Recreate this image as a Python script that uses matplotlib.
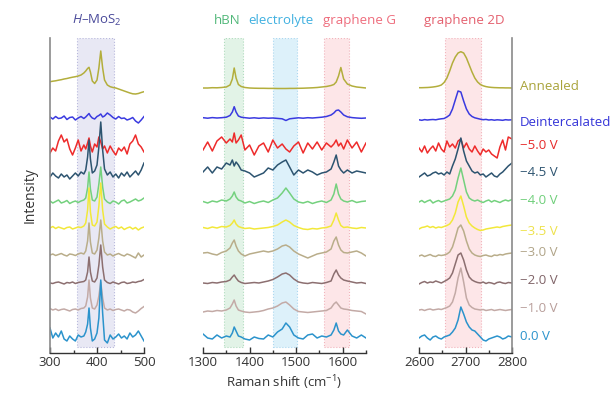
import numpy as np
import matplotlib
matplotlib.use('Agg')
import matplotlib.pyplot as plt

plt.rcParams['font.family'] = ['Open Sans', 'DejaVu Sans']
plt.rcParams['mathtext.fontset'] = 'custom'
plt.rcParams['mathtext.rm'] = 'Open Sans'
plt.rcParams['mathtext.it'] = 'Open Sans:italic'

# spectra, top to bottom
names = ['Annealed', 'Deintercalated', '\u22125.0 V', '\u22124.5 V', '\u22124.0 V',
         '\u22123.5 V', '\u22123.0 V', '\u22122.0 V', '\u22121.0 V', '0.0 V']
colors = ['#b3ae3c', '#3a3ae0', '#ee2b2b', '#2d5470', '#74d17e',
          '#f2e83a', '#b9ad8a', '#8c6f70', '#c3aaa6', '#2b93cc']
label_colors = ['#a9a33a', '#3434d8', '#e62a2a', '#2d5470', '#6fcf7a',
                '#eee24a', '#b0a488', '#806468', '#b89e9a', '#2b93cc']

# Raman shift grids (cm-1) for the three windows
x_mos2 = [300, 306, 312, 318, 324, 330, 336, 342, 348, 354, 360, 366, 372, 376, 380, 383, 386, 390, 395,
          400, 404, 408, 412, 416, 422, 428, 434, 440, 446, 452, 458, 464, 470, 476, 482, 488, 494, 500]
x_mid = [1300, 1310, 1320, 1330, 1340, 1350, 1358, 1363, 1367, 1371, 1376, 1382, 1390, 1400, 1410,
         1420, 1430, 1440, 1450, 1460, 1470, 1478, 1486, 1495, 1505, 1515, 1525, 1535, 1545, 1555,
         1565, 1575, 1581, 1586, 1591, 1596, 1602, 1610, 1620, 1630, 1640, 1650]
x_2d = [2600, 2606, 2612, 2618, 2624, 2630, 2636, 2642, 2648, 2654, 2660, 2666, 2672, 2678, 2684,
        2690, 2696, 2702, 2708, 2714, 2720, 2726, 2732, 2738, 2744, 2750, 2756, 2762, 2768, 2774,
        2780, 2786, 2792, 2800]

# baseline offsets of each trace (same order as names)
off_mos2 = [265, 235, 203, 178, 151, 125, 98, 70, 43, 15]
off_mid = [265, 235, 206, 181, 151, 125, 100, 70, 41, 16]
off_2d = [265, 233, 203, 178, 151, 125, 97, 70, 43, 15]

# MoS2 window intensities
mos2_annealed = [6.3, 6.8, 7.2, 7.8, 8.3, 9.0, 9.5, 10.2, 10.8, 11.3, 12.0, 13.0, 15.0, 17.0, 19.5, 20.7,
                 16.0, 7.0, 4.5, 8.0, 20.0, 37.0, 20.0, 8.0, 3.0, 1.3, 0.5, 0.0, -1.0, -2.0, -3.0, -4.0,
                 -5.0, -5.8, -6.0, -5.5, -4.5, -3.7]
mos2_deint = [1.0, -1.0, 1.5, -0.5, 0.0, 2.0, -1.5, 0.5, 1.0, -2.0, 0.0, 1.5, -0.5, 1.0, 3.0, 4.5, 2.0,
              0.0, -1.0, 1.5, 2.5, 4.0, 1.0, 2.0, 5.0, 3.0, 0.5, -1.0, 1.5, -0.5, 0.0, -2.0, -1.0, 0.5,
              -3.0, -5.0, -2.0, 1.5]
mos2_m50 = [-3, 2, -1, 9, 15, 8, 11, 1, -5, 2, 10, -1, 5, 1, 7, 12, 4, -2, 6, 3, 13, 8, 1, 4, -3, 4,
            -1, -5, 2, -1, 3, -4, 6, 9, 15, 6, 3, -2]
mos2_m45 = [-2, 2, -1, -3, 1, -2, 0, -4, -1, 2, -1, 3, 1, 5, 18, 35, 16, 2, 4, 10, 28, 53, 25, 6, 0, 3,
            -2, 1, -3, 2, -1, 3, -2, 1, 4, 0, 5, 12]
mos2_m40 = [1, -1, 0.5, 2, -1, 0, 1.5, -1.5, 0, 1, -0.5, 1, 2, 4, 14, 30, 13, 2, 1, 5, 18, 35, 15, 3, 0,
            -1.5, 1, 0, -2, 1, 2, -1, 0, 1.5, 3, 1, 2, 4]
mos2_m35 = [0, 1.5, -0.5, 1, 0, -1, 0.5, 1, -1, 0, 1, 0.5, 2, 5, 18, 40, 16, 3, 2, 6, 22, 45, 18, 4, 1,
            -1, 0.5, 1.5, -0.5, 1, -1.5, 0, 1, -1, 0.5, -2, 0, 1]
mos2_m30 = [0, 1, -0.5, 0.5, 1.5, 0, -1, 1, 0.5, -0.5, 1, 2, 1, 4, 14, 32, 13, 2, 1, 5, 17, 35, 14, 3, 0,
            1, -1, 0.5, 1.5, 0, -1, 1, 0, -1.5, -3, 2, -2, 0]
mos2_m20 = [0, -0.5, 0.5, 1, 0, -1, 0.5, 0, 1, -0.5, 0.5, 1, 1.5, 3, 11, 26, 11, 2, 1, 5, 18, 38, 16, 3,
            0.5, -0.5, 1, 0, -1, 0.5, 1, -0.5, 0, 1, 0.5, 1.5, 2, 3.5]
mos2_m10 = [1.5, 0, 1, -0.5, 0.5, 1, 0, -1, 0.5, 1, 0, 1.5, 2, 4, 13, 30, 12, 2, 1, 5, 14, 28, 12, 2, 0,
            1, -0.5, 0.5, 1, 0, -1, 0.5, 0, -2, -3, -1, 1.5, 3.5]
mos2_z00 = [10, 0, 5, 1, 7, -1, -3, 2, -1, -3, 3, 1, 2, 6, 14, 30, 10, -3, -1, 5, 20, 58, 25, -2, -5, 3,
            -1, 1, 4, 0, 2, -1, 5, 1, 3, 7, 2, -3]

# hBN / electrolyte / graphene G window intensities
mid_annealed = [0, 0, 0.3, 0.2, 0.5, 1, 3, 9, 20, 10, 3.5, 1.5, 0.5, 0, -0.2, -0.3, -0.3, -0.4, -0.4,
                -0.5, -0.5, -0.5, -0.4, -0.4, -0.3, -0.2, 0, 0.2, 0.5, 1, 1.5, 2.5, 3.5, 6, 12, 20.5,
                9, 4, 2, 1, 0.5, 0]
mid_deint = [0.3, -0.2, 0.4, 0, 0.3, 0.8, 2.5, 6, 11.3, 6, 2, 0.8, 0.3, -0.2, 0.2, -0.3, 0.1, -0.2, 0,
             -0.4, -0.8, -2.5, -0.8, -0.3, 0.2, -0.2, 0.3, 0, 0.4, 0.8, 1.5, 3, 5, 7.5, 8, 6, 3, 1.2,
             0.4, 0, -0.3, 0]
mid_m50 = [-3, 5, -4, 6, 10, 4, 8, 5, 14, 4, 7, 12, -3, 2, -8, 1, 4, -5, 7, -1, 3, -2, -5, 1, 5, -6, 4,
           -2, 5, -3, 4, 0, 3, 7, 1, 4, -2, 7, -1, 5, -5, 4]
mid_m45 = [0, 5, -1, 5, 3, 9, 7, 12, 6, 10, 7, 2, 1, -1, -5, -3, -1, 4, 2, 7, 10, 12, 5, -3, 2, -1, 2,
           0, -3, -1, 0, 3, 10, 17, 6, 2, -1, 2, -1, 1, 0, -1]
mid_m40 = [0.5, -1, 1, 0, 2, 1, 3, 6, 10, 5, 2, 1, -1, 0.5, -1.5, 0, 1, -0.5, 2, 4, 9, 14, 9, 3, 0, -1,
           0.5, -1.5, 0, 1, -0.5, 2, 8, 18, 8, 3, 1, 0, 1.5, -0.5, 0.5, 1]
mid_m35 = [0.5, -0.5, 1, 0, 1.5, 1, 2.5, 5, 8, 4, 1.5, 0.5, -0.5, 0, -1, -0.5, 0, 0.5, 1.5, 3, 6, 8, 6,
           2.5, 0.5, -1, -1.5, -0.5, -1, 0, 0.5, 2, 8, 15, 8, 2.5, 0.5, 1, 0, -0.5, 0.5, 0]
mid_m30 = [0, 0.5, -1, -2, 0.5, 2, 5, 10, 13, 7, 2, -1, -3, -1, 0, 1, 2, 1, 2, 4, 7, 8, 6, 2, -1, -3,
           -5, -3, -1, 0, 1, 4, 12, 16, 8, 3, 0.5, 0, 1, 2, 0, -3]
mid_m20 = [0, -0.5, 0.5, 0, 1, 1.5, 3, 6, 8, 5, 2, 0.5, -0.5, 0, 0.5, 0, 1, 2, 3.5, 6, 9, 10, 8, 4, 1,
           0, -0.5, 0.5, 0, -0.5, 0.5, 2, 9, 13, 8, 5, 3, 2, 1, 0, 0.5, -0.5]
mid_m10 = [0, 1, 0.5, 1.5, 1, 2, 4, 8, 12, 6, 2, 1, 0, -0.5, 0, 0.5, 1.5, 3, 4, 6, 9, 10, 7, 3, 0.5, 0,
           -0.5, 0, 0.5, 1, 1.5, 4, 8, 10, 7, 4, 3, 2.5, 1.5, 1, 0.5, -2]
mid_z00 = [3, -1, -2, 2, -1, 1, 0, 4, 10, 6, 1, 0, -2, -3, 0, -1.5, -2, 2, 0, 5, 8, 14, 10, 2, -1, -2,
           2, 3, -1, 1, 0, 2, 7, 14, 6, 3, 2, 7, 1, -1, 2, -1]

# graphene 2D window intensities
g2d_annealed = [0.3, 0.3, 0.4, 0.5, 0.7, 1.0, 1.4, 2.0, 3.0, 5.5, 10, 17, 25, 31, 35, 36.3, 35, 30, 23,
                16, 10, 6, 3.5, 2.2, 1.4, 0.9, 0.6, 0.4, 0.3, 0.2, 0.2, 0.1, 0.1, 0.0]
g2d_deint = [0.2, -0.3, 0.4, 0, 0.3, 0.5, 0.2, 0.8, 1.2, 1.5, 3, 5, 11, 20, 29, 28, 19, 11, 6, 3.5, 2.2,
             1.5, 0.8, 0.3, 0.6, 0, 0.3, -0.2, 0.2, 0, -0.3, 0.3, 0, 0.2]
g2d_m50 = [2, -2, 4, -3, 1, 4, -1, 7, 1, -2, 9, 3, 6, 2, 9, 11, 2, 7, 1, -2, 4, -1, -5, 1, -2, 0, -4, -6,
           -8, 3, 10, 0, 13, 11]
g2d_m45 = [-2, 0, 2, -1, 0, 2, 3, 1, 2, 0, 3, 1, 9, 16, 26, 37, 24, 14, 9, 4, 2, 3, 0, 1, -2, 0, 2, -1,
           -2, 1, 3, 6, 9, 12]
g2d_m40 = [0, 1.5, -0.5, 1, 2, -1, 0.5, 1.5, 0, 1, 2, 3, 6, 12, 24, 34, 22, 10, 4, 2, 1, 2, 0.5, -0.5,
           1, 2, 0, 1.5, 0.5, -0.5, 1, 2, 1, 2.5]
g2d_m35 = [-1, 0.5, 1, 2, 0.5, 1.5, 0, 1, 0.5, 1.5, 2.5, 4, 8, 15, 26, 32, 22, 11, 5, 2, 0, -1.5, -2.5,
           -2, -1, -0.5, 0, 0.5, 1, 0.5, 1.5, 2, 2.5, 3]
g2d_m30 = [0, 1, -0.5, 0.5, 1.5, 0, -0.5, 1, 0.5, 1, 2, 4, 9, 18, 28, 31, 25, 15, 7, 3, 1, 0, -0.5, 0.5,
           1, 0, -0.5, 1, 0.5, 1.5, 1, 2, 2.5, 3]
g2d_m20 = [-1, 0.5, 1.5, 0, 1, 0.5, 2, 1, 0, 1.5, 3, 5, 10, 19, 28, 30, 23, 13, 6, 3, 1.5, 0.5, 0, 1,
           -0.5, 0.5, 0, -1, 0.5, 1, 0, -0.5, 0.5, 0]
g2d_m10 = [0, 0.5, -0.5, 0.5, 1, 0, 0.5, 1, 0.5, 1.5, 2.5, 4, 8, 17, 32, 42, 28, 12, 5, 2.5, 1, 0.5, 0,
           0.5, -0.5, 0, 0.5, -0.5, 0, 0.5, 0, -0.5, 0, 0.5]
g2d_z00 = [0, 2, 3, 0, -2, 1, 2, 0, -1, 1, 2, 3, 6, 10, 18, 31, 24, 16, 11, 8, 7, 4, 1, -2, -3, -1, 0,
           1, 2, 1, -1, 0, 2, 1]

mos2 = [mos2_annealed, mos2_deint, mos2_m50, mos2_m45, mos2_m40,
        mos2_m35, mos2_m30, mos2_m20, mos2_m10, mos2_z00]
mid = [mid_annealed, mid_deint, mid_m50, mid_m45, mid_m40,
       mid_m35, mid_m30, mid_m20, mid_m10, mid_z00]
g2d = [g2d_annealed, g2d_deint, g2d_m50, g2d_m45, g2d_m40,
       g2d_m35, g2d_m30, g2d_m20, g2d_m10, g2d_z00]

# shaded peak windows: (x0, x1, face, edge)
bands_mos2 = [(357, 436, '#e8e8f4', '#b8b8dc')]
bands_mid = [(1345, 1386, '#e2f3e7', '#b0dcbe'),
             (1450, 1501, '#ddf1fa', '#acd8f0'),
             (1559, 1613, '#fde6e8', '#f2b4bc')]
bands_2d = [(2656, 2733, '#fde6e8', '#f2b4bc')]

W, H = 614, 394
fig = plt.figure(figsize=(W / 100, H / 100), dpi=100)
bottom, height = 41 / H, 315 / H
ax1 = fig.add_axes([50 / W, bottom, 94 / W, height])
ax2 = fig.add_axes([203 / W, bottom, 163 / W, height])
ax3 = fig.add_axes([419 / W, bottom, 93 / W, height])

panels = [
    (ax1, x_mos2, mos2, off_mos2, bands_mos2, (300, 500), [300, 400, 500], [350, 450]),
    (ax2, x_mid, mid, off_mid, bands_mid, (1300, 1650), [1300, 1400, 1500, 1600], [1350, 1450, 1550, 1650]),
    (ax3, x_2d, g2d, off_2d, bands_2d, (2600, 2800), [2600, 2700, 2800], [2650, 2750]),
]

for ax, xs, spectra, offs, bands, xlim, major, minor in panels:
    for x0, x1, fc, ec in bands:
        ax.axvspan(x0, x1, ymin=6 / 315, ymax=1, facecolor=fc, edgecolor=ec,
                   linestyle=':', linewidth=0.8, zorder=0)
    for ys, off, c in zip(spectra, offs, colors):
        ax.plot(xs, np.array(ys) + off, color=c, lw=1.1)
    ax.set_xlim(*xlim)
    ax.set_ylim(0, 315)
    ax.set_xticks(major)
    ax.set_xticks(minor, minor=True)
    ax.set_yticks([])
    ax.tick_params(axis='x', which='major', direction='in', length=4, width=1,
                   labelsize=9.5, pad=2.5, color='#333333', labelcolor='#333333')
    ax.tick_params(axis='x', which='minor', direction='in', length=2.5, width=1, color='#333333')
    ax.set_facecolor('none')
    for side in ['top', 'left', 'right']:
        ax.spines[side].set_visible(False)
    ax.spines['bottom'].set_color('#333333')
    ax.spines['bottom'].set_linewidth(1.0)

ax1.spines['left'].set_visible(True)
ax1.spines['left'].set_color('#8a8a8a')
ax1.spines['left'].set_linewidth(1.2)
ax3.spines['right'].set_visible(True)
ax3.spines['right'].set_color('#8a8a8a')
ax3.spines['right'].set_linewidth(1.2)

ax1.set_ylabel('Intensity', fontsize=10, color='#333333', labelpad=9)
fig.text(284.5 / W, 1 - 383 / H, 'Raman shift (cm$^{-1}$)', ha='center', va='center',
         fontsize=9.5, color='#333333')

# band titles
ty = 1.057
ax1.text(400, ty, r'$\mathit{H}$' + '\u2013MoS$_2$', transform=ax1.get_xaxis_transform(),
         ha='center', va='center', fontsize=9.5, color='#4a4a9a')
ax2.text(1353, ty, 'hBN', transform=ax2.get_xaxis_transform(),
         ha='center', va='center', fontsize=9.5, color='#52b87a')
ax2.text(1468, ty, 'electrolyte', transform=ax2.get_xaxis_transform(),
         ha='center', va='center', fontsize=9.5, color='#3fb0e0')
ax2.text(1637, ty, 'graphene G', transform=ax2.get_xaxis_transform(),
         ha='center', va='center', fontsize=9.5, color='#ee6c7c')
ax3.text(2697, ty, 'graphene 2D', transform=ax3.get_xaxis_transform(),
         ha='center', va='center', fontsize=9.5, color='#e4606e')

# trace names on the right
label_y = [87, 123, 145, 172, 200, 231, 253, 281, 308, 337]
for name, yy, c in zip(names, label_y, label_colors):
    fig.text(520 / W, 1 - yy / H, name, ha='left', va='center', fontsize=9.5, color=c)

fig.savefig('out.png', dpi=100)
